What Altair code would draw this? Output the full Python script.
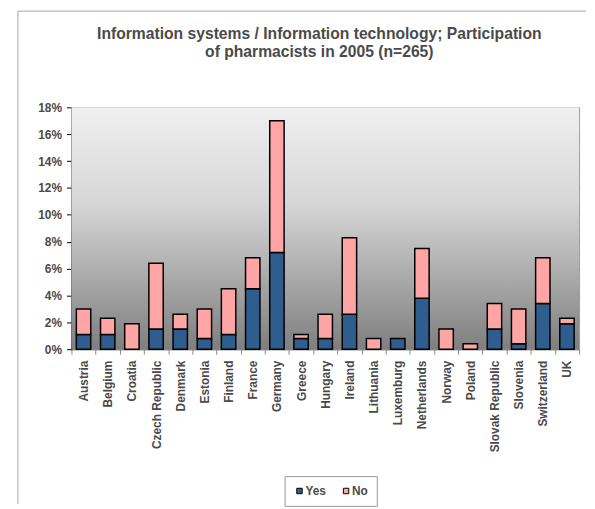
import altair as alt
import pandas as pd

countries = ["Austria", "Belgium", "Croatia", "Czech Republic", "Denmark", "Estonia",
             "Finland", "France", "Germany", "Greece", "Hungary", "Ireland", "Italy",
             "Lithuania", "Luxemburg", "Netherlands", "Norway", "Poland",
             "Slovak Republic", "Slovenia", "Spain", "Switzerland", "UK"]
yes_pct = [1.1, 1.1, 0.0, 1.5, 1.5, 0.8, 1.1, 4.5, 7.2, 0.8, 0.8, 2.6, 0.0,
           0.0, 0.8, 3.8, 0.0, 0.0, 1.5, 0.4, 0.0, 3.4, 1.9]
no_pct = [1.9, 1.2, 1.9, 4.9, 1.1, 2.2, 3.4, 2.3, 9.8, 0.3, 1.8, 5.7, 0.0,
          0.8, 0.0, 3.7, 1.5, 0.4, 1.9, 2.6, 0.0, 3.4, 0.4]
series = ["Yes", "No"]
series_colors = ["#2E5D8E", "#FFA5A5"]
y_ticks = [0, 0.02, 0.04, 0.06, 0.08, 0.10, 0.12, 0.14, 0.16, 0.18]
title_lines = ["Information systems / Information technology; Participation",
               "of pharmacists in 2005 (n=265)"]

rows = []
for c, y, n in zip(countries, yes_pct, no_pct):
    rows.append({"country": c, "answer": "Yes", "value": y / 100, "order": 0})
    rows.append({"country": c, "answer": "No", "value": n / 100, "order": 1})
df = pd.DataFrame(rows)

W, H = 512, 244
FONT = "Liberation Sans"
TXT = "#4a4a4a"

gradient = {
    "gradient": "linear", "x1": 0, "x2": 0, "y1": 0, "y2": 1,
    "stops": [
        {"offset": 0, "color": "#f0f0f0"},
        {"offset": 0.4, "color": "#d6d6d6"},
        {"offset": 1, "color": "#7f7f7f"},
    ],
}

one = pd.DataFrame({"k": [0]})

bg = alt.Chart(one).mark_rect(fill=gradient, stroke=None).encode(
    x=alt.value(0), x2=alt.value(W), y=alt.value(0), y2=alt.value(H)
)

x_enc = alt.X(
    "country:N", sort=countries, title=None,
    scale=alt.Scale(paddingInner=0, paddingOuter=0),
    axis=alt.Axis(labelAngle=-90, labelFontWeight="bold", labelFontSize=12,
                  labelColor=TXT, labelFont=FONT, labelPadding=6,
                  tickBand="extent", tickSize=5, tickColor="#888888",
                  domainColor="#888888", labelLimit=200),
)
y_enc = alt.Y(
    "value:Q", stack="zero", title=None,
    scale=alt.Scale(domain=[0, 0.18], nice=False),
    axis=alt.Axis(values=y_ticks, format=".0%", labelFontWeight="bold",
                  labelFontSize=12, labelColor=TXT, labelFont=FONT,
                  labelPadding=5, tickSize=5, tickColor="#000000",
                  domainColor="#000000", grid=True, gridColor="#000000",
                  gridOpacity=0.3),
)

bars = alt.Chart(df).transform_filter("datum.value > 0").mark_bar(
    size=14.5, stroke="#000000", strokeWidth=1.5
).encode(
    x=x_enc,
    y=y_enc,
    color=alt.Color(
        "answer:N",
        scale=alt.Scale(domain=series, range=series_colors),
        legend=alt.Legend(
            title=None, orient="none", legendX=215, legendY=372,
            direction="horizontal", symbolType="square", symbolSize=30,
            symbolStrokeColor="#000000", symbolStrokeWidth=1,
            labelFontSize=12, labelFontWeight="bold", labelFont=FONT,
            labelColor=TXT, labelOffset=0, columnPadding=14, padding=9,
            strokeColor="#999999", fillColor="#ffffff",
        ),
    ),
    order=alt.Order("order:Q"),
)

frame_left = alt.Chart(one).mark_rule(color="#a6a6a6", strokeWidth=1).encode(
    x=alt.value(-54), y=alt.value(-97), y2=alt.value(400)
)
frame_top = alt.Chart(one).mark_rule(color="#a6a6a6", strokeWidth=1).encode(
    x=alt.value(-54), x2=alt.value(519), y=alt.value(-97)
)

chart = alt.layer(frame_left, frame_top, bg, bars).properties(
    width=W, height=H,
    padding={"left": 9, "top": 0, "right": 0, "bottom": 0},
    title=alt.Title(
        title_lines, anchor="middle", frame="group", offset=-51, dx=-6,
        fontSize=15.8, fontWeight="bold", font=FONT, color=TXT, lineHeight=19,
    ),
).configure_view(stroke="#999999", strokeWidth=1)

chart.save("out.html", embed_options={"renderer": "svg", "actions": False})
